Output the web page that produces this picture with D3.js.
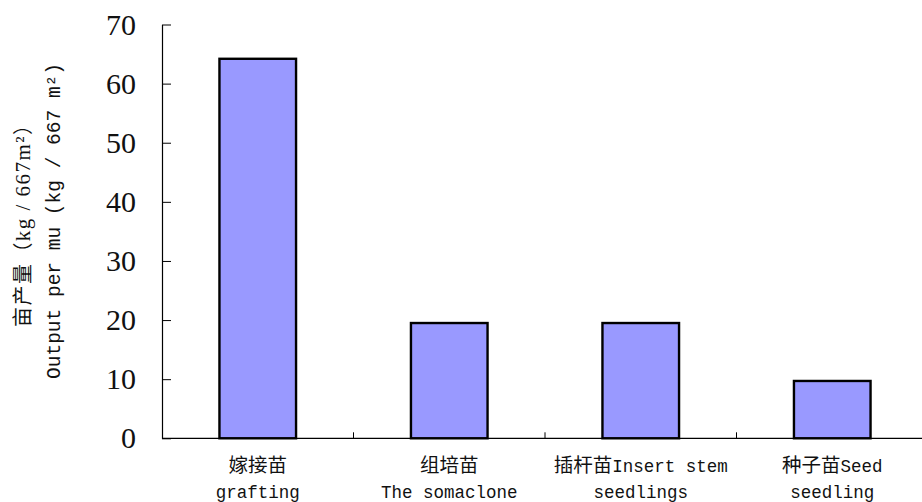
<!DOCTYPE html>
<html>
<head>
<meta charset="utf-8">
<script src="https://cdn.jsdelivr.net/npm/d3@7"></script>
<style>
html,body{margin:0;padding:0;background:#fff;}
svg{display:block;}
</style>
</head>
<body>
<svg id="chart" width="922" height="502"></svg>
<script>
const categoriesCN = ["嫁接苗", "组培苗", "插杆苗", "种子苗"];
const categoriesEN1 = ["", "", "Insert stem", "Seed"];
const categoriesEN2 = ["grafting", "The somaclone", "seedlings", "seedling"];
const values = [64.2, 19.5, 19.5, 9.7];
const yTicks = [0, 10, 20, 30, 40, 50, 60, 70];
const yTitle1CN = "亩产量（";
const yTitle1EN = "kg / 667m²";
const yTitle1End = "）";
const yTitle2 = "Output per mu (kg / 667 m²)";

const svg = d3.select("#chart");
const plotLeft = 162, plotRight = 928, plotTop = 24.5, plotBottom = 438.3;

const x = d3.scaleBand().domain(categoriesCN).range([plotLeft, plotRight]).paddingInner(0.6).paddingOuter(0.3);
const y = d3.scaleLinear().domain([0, 70]).range([plotBottom, plotTop]);

// bars
svg.append("g").selectAll("rect").data(values).join("rect")
  .attr("x", (d, i) => x(categoriesCN[i]))
  .attr("y", d => y(d))
  .attr("width", x.bandwidth())
  .attr("height", d => y(0) - y(d))
  .attr("fill", "#9999ff")
  .attr("stroke", "#000")
  .attr("stroke-width", 2.4);

// y axis
const yAxis = d3.axisLeft(y).tickValues(yTicks).tickSize(-9).tickSizeOuter(0).tickPadding(26).tickFormat(d3.format("d"));
const gy = svg.append("g").attr("transform", `translate(${plotLeft},0)`).call(yAxis);
gy.select(".domain").attr("stroke", "#000").attr("stroke-width", 1.2);
gy.selectAll(".tick line").attr("stroke", "#000").attr("stroke-width", 1);
gy.selectAll(".tick text").attr("font-family", "'Liberation Serif', 'Times New Roman', serif")
  .attr("font-size", 30).attr("fill", "#111");

// x axis
const gx = svg.append("g");
gx.append("line").attr("x1", plotLeft).attr("x2", plotRight).attr("y1", plotBottom).attr("y2", plotBottom)
  .attr("stroke", "#000").attr("stroke-width", 1.2);
const bounds = categoriesCN.map(c => x(c) + x.bandwidth() + (x.step() - x.bandwidth()) / 2);
gx.selectAll("line.tk").data(bounds).join("line").attr("class", "tk")
  .attr("x1", d => d).attr("x2", d => d).attr("y1", plotBottom).attr("y2", plotBottom - 6)
  .attr("stroke", "#000").attr("stroke-width", 1);

// x labels
const lab = svg.append("g").attr("fill", "#111");
categoriesCN.forEach((c, i) => {
  const cx = x(c) + x.bandwidth() / 2;
  const t1 = lab.append("text").attr("x", cx).attr("y", 472).attr("text-anchor", "middle");
  t1.append("tspan").attr("font-family", "'Noto Sans CJK SC', sans-serif").attr("font-size", 19.5).text(c);
  if (categoriesEN1[i]) t1.append("tspan").attr("font-family", "'Liberation Mono', monospace").attr("font-size", 17.5).text(categoriesEN1[i]);
  lab.append("text").attr("x", cx).attr("y", 498).attr("text-anchor", "middle")
    .attr("font-family", "'Liberation Mono', monospace").attr("font-size", 17.5).text(categoriesEN2[i]);
});

// y title
const cy = 221;
const tt1 = svg.append("text").attr("transform", `translate(30,${cy}) rotate(-90)`).attr("text-anchor", "middle").attr("fill", "#111")
  .attr("textLength", 212).attr("lengthAdjust", "spacing");
tt1.append("tspan").attr("font-family", "'Noto Sans CJK SC', sans-serif").attr("font-size", 20).text(yTitle1CN);
tt1.append("tspan").attr("font-family", "'Liberation Serif', serif").attr("font-size", 21).text(yTitle1EN);
tt1.append("tspan").attr("font-family", "'Noto Sans CJK SC', sans-serif").attr("font-size", 20).text(yTitle1End);
svg.append("text").attr("transform", `translate(60,${cy}) rotate(-90)`).attr("text-anchor", "middle").attr("fill", "#111")
  .attr("font-family", "'Liberation Mono', monospace").attr("font-size", 19.5).text(yTitle2);
</script>
</body>
</html>
